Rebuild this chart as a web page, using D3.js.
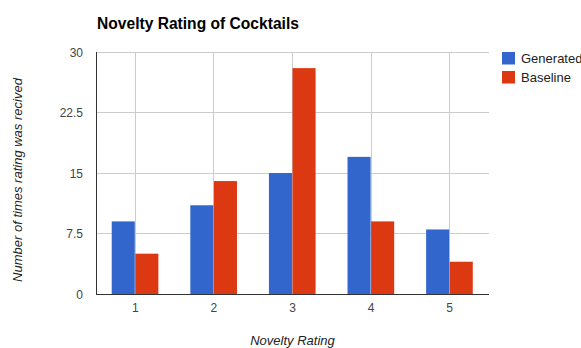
<!DOCTYPE html>
<html><head><meta charset="utf-8">
<script src="https://cdn.jsdelivr.net/npm/d3@7"></script>
<style>body{margin:0;background:#fff;}svg{display:block;font-family:Arial,"Liberation Sans",sans-serif;}</style>
</head><body>
<svg id="c" width="581" height="348"></svg>
<script>
const categories = ["1","2","3","4","5"];
const seriesNames = ["Generated","Baseline"];
const generated = [9, 11, 15, 17, 8];
const baseline = [5, 14, 28, 9, 4];
const yTicks = [0, 7.5, 15, 22.5, 30];
const colors = ["#3366cc", "#dc3912"];

const svg = d3.select("#c");
const m = {left: 96, right: 489, top: 52, bottom: 294};
const x = d3.scaleBand().domain(categories).range([m.left, m.right]).paddingInner(0).paddingOuter(0);
const x1 = d3.scaleBand().domain(seriesNames).range([0, x.bandwidth()*0.6]);
const y = d3.scaleLinear().domain([0, 30]).range([m.bottom, m.top]);

// horizontal gridlines
svg.append("g").selectAll("line").data(yTicks.filter(d => d > 0)).join("line")
  .attr("x1", m.left).attr("x2", m.right)
  .attr("y1", d => y(d)).attr("y2", d => y(d))
  .attr("stroke", "#cccccc").attr("stroke-width", 1).attr("shape-rendering","crispEdges");
// vertical gridlines at category centres
svg.append("g").selectAll("line").data(categories).join("line")
  .attr("x1", d => x(d) + x.bandwidth()/2).attr("x2", d => x(d) + x.bandwidth()/2)
  .attr("y1", m.top).attr("y2", m.bottom)
  .attr("stroke", "#cccccc").attr("stroke-width", 1).attr("shape-rendering","crispEdges");

const data = [generated, baseline];
const groupOffset = x.bandwidth()*0.2;
seriesNames.forEach((s, si) => {
  svg.append("g").selectAll("rect").data(categories).join("rect")
    .attr("x", d => x(d) + groupOffset + x1(s))
    .attr("width", x1.bandwidth() - 0.5)
    .attr("y", (d, i) => y(data[si][i]))
    .attr("height", (d, i) => m.bottom - y(data[si][i]))
    .attr("fill", colors[si]);
});

// axes lines
svg.append("line").attr("x1", m.left).attr("x2", m.left).attr("y1", m.top).attr("y2", m.bottom+1)
  .attr("stroke", "#333").attr("stroke-width", 1).attr("shape-rendering","crispEdges");
svg.append("line").attr("x1", m.left).attr("x2", m.right).attr("y1", m.bottom).attr("y2", m.bottom)
  .attr("stroke", "#333").attr("stroke-width", 1).attr("shape-rendering","crispEdges");

// y tick labels
svg.append("g").selectAll("text").data(yTicks).join("text")
  .attr("x", 83).attr("y", d => y(d) + 4.5)
  .attr("text-anchor", "end").attr("font-size", 12).attr("fill", "#444")
  .text(d => d);
// x tick labels
svg.append("g").selectAll("text").data(categories).join("text")
  .attr("x", d => x(d) + x.bandwidth()/2).attr("y", 312)
  .attr("text-anchor", "middle").attr("font-size", 12).attr("fill", "#444")
  .text(d => d);

// title
svg.append("text").attr("x", 97).attr("y", 28.5).attr("font-size", 15.6).attr("font-weight", "bold")
  .attr("fill", "#000").text("Novelty Rating of Cocktails");
// axis titles
svg.append("text").attr("x", (m.left+m.right)/2).attr("y", 345).attr("text-anchor", "middle")
  .attr("font-size", 13).attr("font-style", "italic").attr("fill", "#222").text("Novelty Rating");
svg.append("text").attr("transform", "translate(22,180) rotate(-90)").attr("text-anchor", "middle")
  .attr("font-size", 13).attr("font-style", "italic").attr("fill", "#222").text("Number of times rating was recived");

// legend
const lg = svg.append("g").selectAll("g").data(seriesNames).join("g")
  .attr("transform", (d, i) => `translate(502,${52 + i*19})`);
lg.append("rect").attr("width", 13).attr("height", 12.5).attr("fill", (d, i) => colors[i]);
lg.append("text").attr("x", 19).attr("y", 11).attr("font-size", 13).attr("fill", "#222").text(d => d);
</script>
</body></html>
